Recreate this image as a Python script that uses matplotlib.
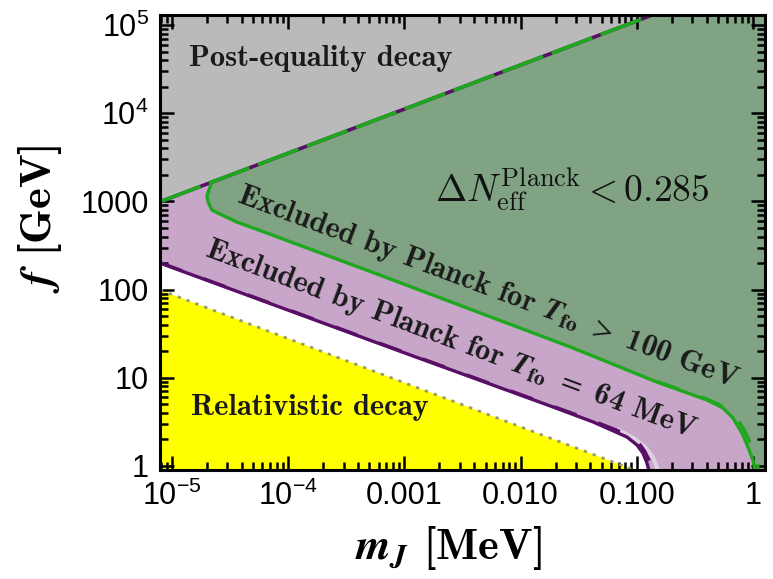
import numpy as np
import matplotlib
matplotlib.use("Agg")
import matplotlib.pyplot as plt
from matplotlib.ticker import FixedLocator, FixedFormatter, LogLocator, NullFormatter

plt.rcParams['font.family'] = ['Liberation Sans', 'DejaVu Sans']
plt.rcParams['mathtext.fontset'] = 'cm'

# ---------------- data (m_J in MeV, f in GeV) ----------------
XMIN, XMAX = 7.9e-6, 1.27
YMIN, YMAX = 0.90, 1.3e5

# matter-radiation equality boundary (post-equality decay above)
eq_m = [7.9e-6, 0.13, 1.3]
eq_f = [990, 1.27e5, 4.0e5]

# Planck exclusion, T_fo > 100 GeV (green)
green_m = [2.2e-5, 2.0e-5, 2.05e-5, 2.21e-5, 2.69e-5, 3.62e-5, 6.57e-5, 1.45e-4, 6.17e-4,
           0.0282, 0.149, 0.402, 0.552, 0.673, 0.804, 0.906, 1.0, 1.04, 1.05]
green_f = [1660, 1150, 984, 798, 702, 584, 438, 297, 146,
           21.8, 8.95, 5.6, 4.55, 3.50, 2.37, 1.64, 1.17, 0.90, 0.80]
green_dash_m = [0.149, 0.402, 0.58, 0.72, 0.85, 0.97, 1.08, 1.12]
green_dash_f = [9.1, 5.75, 4.6, 3.6, 2.5, 1.7, 1.15, 0.85]

# Planck exclusion, T_fo = 64 MeV (purple)
purple_m = [7.9e-6, 8.63e-4, 0.019, 0.042, 0.0824, 0.1005, 0.113, 0.1225, 0.127, 0.128]
purple_f = [200, 20.6, 4.67, 3.16, 2.13, 1.73, 1.40, 1.08, 0.90, 0.80]
purple_dash_m = [7.9e-6, 8.63e-4, 0.019, 0.042, 0.085, 0.105, 0.118, 0.128]
purple_dash_f = [202, 20.9, 4.75, 3.25, 2.25, 1.80, 1.45, 1.15]
pale_m = [0.07, 0.095, 0.12, 0.138, 0.148, 0.152]
pale_f = [2.55, 2.05, 1.6, 1.25, 1.0, 0.85]

# relativistic decay boundary (yellow below)
rel_m = [7.9e-6, 0.0953, 0.11]
rel_f = [99, 0.90, 0.838]

# ---------------- figure ----------------
fig = plt.figure(figsize=(7.73, 5.79), dpi=100)
ax = fig.add_axes([160/773, 1-470/579, (765-160)/773, (470-15)/579])
ax.set_xscale('log')
ax.set_yscale('log')
ax.set_xlim(XMIN, XMAX)
ax.set_ylim(YMIN, YMAX)

GREY = '#bababa'
GREENF = '#80a383'
PURPF = '#c8a6c9'
YELL = '#ffff00'
GREENL = '#1ea81e'
PURPL = '#5a0f66'

BIG = 100.0
pm = purple_m + [XMAX*BIG, XMAX*BIG, XMIN/BIG, XMIN/BIG]
pf = purple_f + [purple_f[-1], YMAX*BIG, YMAX*BIG, purple_f[0]]
ax.fill(pm, pf, color=PURPF, lw=0, zorder=1)
ax.plot(pale_m, pale_f, color='#ddd0e0', lw=3, zorder=1.5)

gm = eq_m + [eq_m[-1], XMIN/BIG, XMIN/BIG]
gf = eq_f + [YMAX*BIG, YMAX*BIG, eq_f[0]]
ax.fill(gm, gf, color=GREY, lw=0, zorder=2)

em = eq_m[::-1]
ef = eq_f[::-1]
grm = green_m + [XMAX*BIG, XMAX*BIG] + em[:-1]
grf = green_f + [green_f[-1], ef[0]] + ef[:-1]
grm.append(green_m[0]); grf.append(green_f[0])
ax.fill(grm, grf, color=GREENF, lw=0, zorder=2)

ym_ = rel_m + [XMIN/BIG]
yf_ = rel_f + [rel_f[-1]]
ax.fill(ym_, yf_, color=YELL, lw=0, zorder=2)
ax.plot(rel_m, rel_f, color='#9a9a6a', lw=2, ls=(0, (1.2, 2.2)), zorder=3)

ax.plot(eq_m, eq_f, color=PURPL, lw=2.6, zorder=4, solid_capstyle='butt')
ax.plot(eq_m, eq_f, color=GREENL, lw=2.6, zorder=5, ls=(0, (12, 2.5)))
ax.plot(purple_m, purple_f, color=PURPL, lw=2.4, zorder=4)
ax.plot(purple_dash_m, purple_dash_f, color=PURPL, lw=2.4, zorder=4, ls=(0, (7, 7)))
ax.plot(green_m, green_f, color=GREENL, lw=2.4, zorder=4)
ax.plot(green_dash_m, green_dash_f, color=GREENL, lw=2.4, zorder=4, ls=(0, (7, 7)))

# ---------------- texts ----------------
serif_b = dict(fontfamily='cmb10', color='#1a1a1a', zorder=6, math_fontfamily='stix')
FS = 22
ax.text(1.91e-4, 4.2e4, 'Post-equality decay', fontsize=FS, ha='center', va='center', **serif_b)
ax.text(1.54e-4, 4.55, 'Relativistic decay', fontsize=FS, ha='center', va='center', **serif_b)
ax.text(0.00524, 107, r'Excluded by Planck for $\mathbfit{T}_{\mathbf{fo}}$ $>$ 100 GeV', fontsize=FS,
        ha='center', va='center', rotation=-20.5, rotation_mode='anchor', **serif_b)
ax.text(0.00252, 26.9, r'Excluded by Planck for $\mathbfit{T}_{\mathbf{fo}}$ $=$ 64 MeV', fontsize=FS,
        ha='center', va='center', rotation=-20.5, rotation_mode='anchor', **serif_b)
ax.text(0.0277, 1345, r'$\Delta N_{\rm eff}^{\rm Planck} < 0.285$', fontsize=27,
        ha='center', va='center', color='#111111', zorder=6)

ax.set_xlabel(r'$\mathbfit{m}_{\mathbfit{J}}$ [MeV]', fontsize=32, fontfamily='cmb10', math_fontfamily='stix')
ax.set_ylabel(r'$\mathbfit{f}$ [GeV]', fontsize=32, fontfamily='cmb10', math_fontfamily='stix')
ax.xaxis.label.set_va('center')
ax.yaxis.label.set_va('center')
ax.xaxis.set_label_coords(0.476, -0.171)
ax.yaxis.set_label_coords(-0.198, 0.552)

# ---------------- ticks ----------------
xt = [1e-5, 1e-4, 1e-3, 1e-2, 1e-1, 1]
xl = [r'$\mathregular{10^{-5}}$', r'$\mathregular{10^{-4}}$', '0.001', '0.010', '0.100', '1']
yt = [1, 10, 100, 1000, 1e4, 1e5]
yl = ['1', '10', '100', '1000', r'$\mathregular{10^4}$', r'$\mathregular{10^5}$']
ax.xaxis.set_major_locator(FixedLocator(xt))
ax.xaxis.set_major_formatter(FixedFormatter(xl))
ax.yaxis.set_major_locator(FixedLocator(yt))
ax.yaxis.set_major_formatter(FixedFormatter(yl))
ax.xaxis.set_minor_locator(LogLocator(base=10, subs=np.arange(2, 10), numticks=20))
ax.yaxis.set_minor_locator(LogLocator(base=10, subs=np.arange(2, 10), numticks=20))
ax.xaxis.set_minor_formatter(NullFormatter())
ax.yaxis.set_minor_formatter(NullFormatter())
ax.tick_params(which='both', direction='in', top=True, right=True, width=1.8, colors='black')
ax.tick_params(which='major', length=10, labelsize=22, pad=8)
ax.tick_params(which='minor', length=6)
for s in ax.spines.values():
    s.set_linewidth(2.2)
    s.set_zorder(10)
ax.set_axisbelow(False)

fig.savefig('out.png', dpi=100)
